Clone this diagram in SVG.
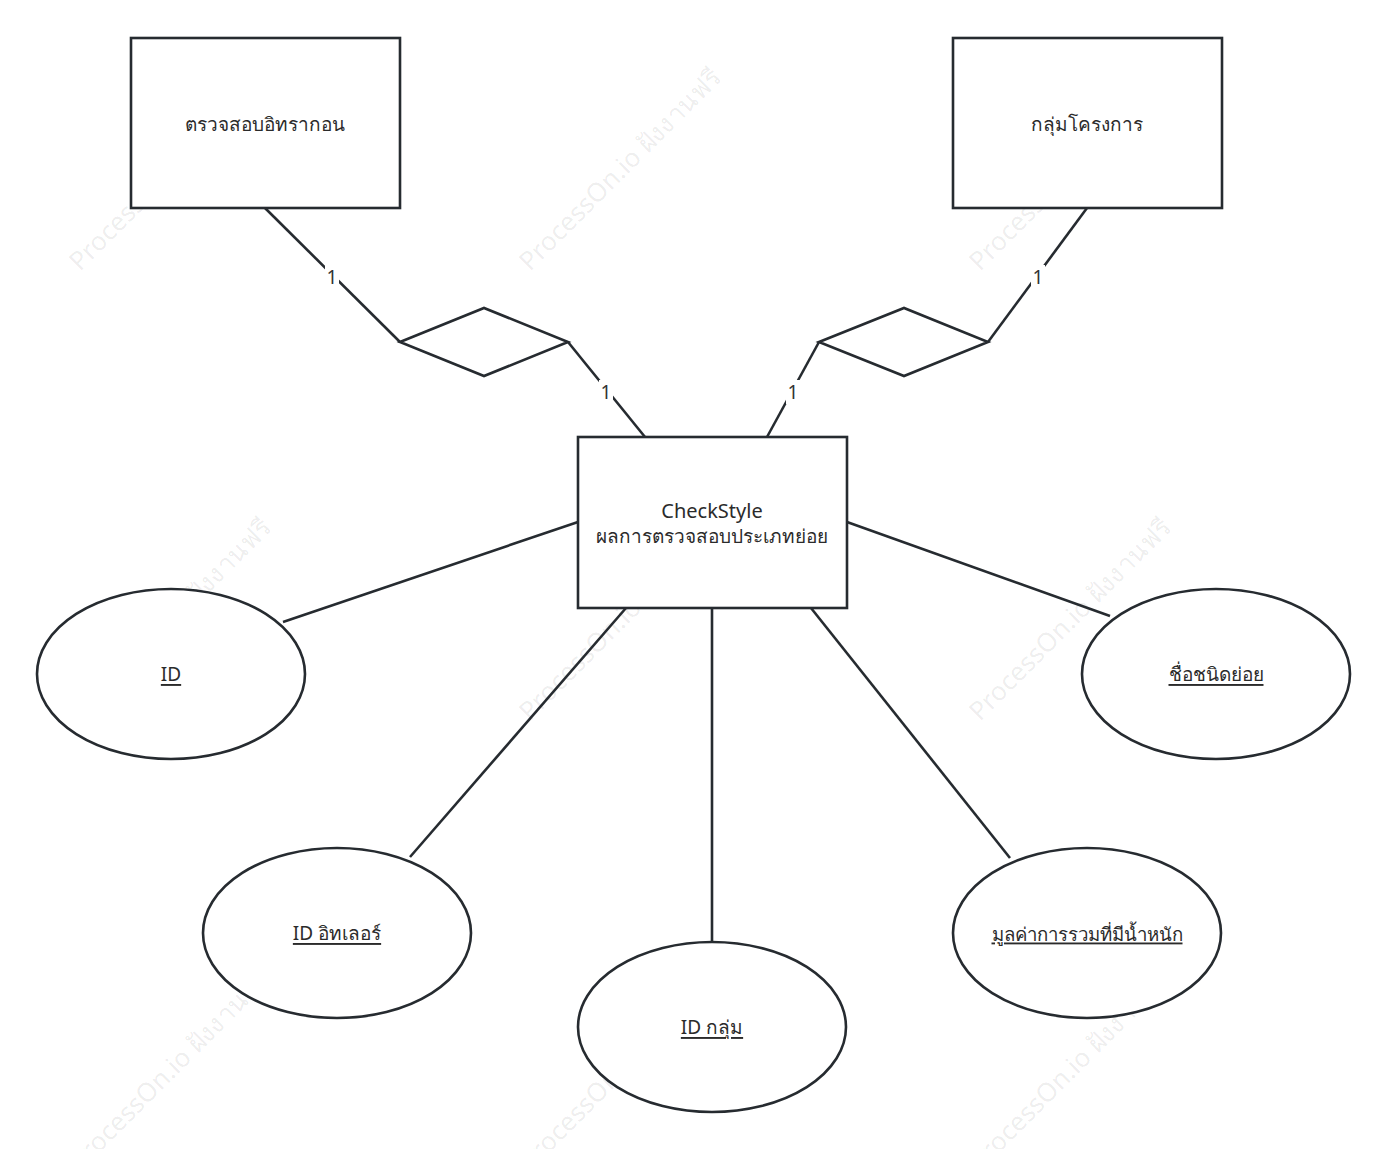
<svg xmlns="http://www.w3.org/2000/svg" width="1386" height="1149" viewBox="0 0 1386 1149">
<style>
.shape{fill:#ffffff;stroke:#262b30;stroke-width:2.6}
.conn{fill:none;stroke:#262b30;stroke-width:2.6}
.t{font-family:"Noto Sans","Open Sans",sans-serif;font-size:19px;fill:#2b2b2b;text-anchor:middle;dominant-baseline:central}
.big{font-size:20px}
.sm{font-size:18.6px}
.u{text-decoration:underline}
.lbl{font-family:"Noto Sans","Open Sans",sans-serif;font-size:19px;fill:#333333;text-anchor:middle;dominant-baseline:central}
.wm{font-family:"Noto Sans","Open Sans",sans-serif;font-size:26px;fill:#000000;fill-opacity:0.08}
</style>
<rect width="1386" height="1149" fill="#ffffff"/>
<g id="watermarks">
<text class="wm" transform="translate(80,272) rotate(-45)">ProcessOn.io ฝังงานฟรี</text>
<text class="wm" transform="translate(530,272) rotate(-45)">ProcessOn.io ฝังงานฟรี</text>
<text class="wm" transform="translate(980,272) rotate(-45)">ProcessOn.io ฝังงานฟรี</text>
<text class="wm" transform="translate(80,722) rotate(-45)">ProcessOn.io ฝังงานฟรี</text>
<text class="wm" transform="translate(530,722) rotate(-45)">ProcessOn.io ฝังงานฟรี</text>
<text class="wm" transform="translate(980,722) rotate(-45)">ProcessOn.io ฝังงานฟรี</text>
<text class="wm" transform="translate(80,1172) rotate(-45)">ProcessOn.io ฝังงานฟรี</text>
<text class="wm" transform="translate(530,1172) rotate(-45)">ProcessOn.io ฝังงานฟรี</text>
<text class="wm" transform="translate(980,1172) rotate(-45)">ProcessOn.io ฝังงานฟรี</text>
</g>
<g id="connectors">
<polyline class="conn" points="265,208 400,342"/>
<polyline class="conn" points="568,342 645,437"/>
<polyline class="conn" points="1087,208 988,342"/>
<polyline class="conn" points="819,342 767,437"/>
<line class="conn" x1="578" y1="522" x2="283" y2="622"/>
<line class="conn" x1="847" y1="522" x2="1110" y2="616"/>
<line class="conn" x1="626" y1="608" x2="410" y2="857"/>
<line class="conn" x1="712" y1="608" x2="712" y2="941"/>
<line class="conn" x1="811" y1="608" x2="1010" y2="858"/>
<rect x="325" y="265" width="14" height="24" fill="#ffffff"/>
<text class="lbl" x="332" y="277">1</text>
<rect x="599" y="380" width="14" height="24" fill="#ffffff"/>
<text class="lbl" x="606" y="392">1</text>
<rect x="1031" y="265" width="14" height="24" fill="#ffffff"/>
<text class="lbl" x="1038" y="277">1</text>
<rect x="786" y="380" width="14" height="24" fill="#ffffff"/>
<text class="lbl" x="793" y="392">1</text>
</g>
<g id="node-inspect">
<rect class="shape" x="131" y="38" width="269" height="170"/>
<text class="t" x="265" y="124">ตรวจสอบอิทรากอน</text>
</g>
<g id="node-group">
<rect class="shape" x="953" y="38" width="269" height="170"/>
<text class="t" x="1087" y="124">กลุ่มโครงการ</text>
</g>
<g id="rel-left">
<polygon class="shape" points="400,342 484,308 568,342 484,376"/>
</g>
<g id="rel-right">
<polygon class="shape" points="819,342 904,308 988,342 904,376"/>
</g>
<g id="node-checkstyle">
<rect class="shape" x="578" y="437" width="269" height="171"/>
<text class="t big" x="712" y="510">CheckStyle</text>
<text class="t" x="712" y="536">ผลการตรวจสอบประเภทย่อย</text>
</g>
<g id="attr-id">
<ellipse class="shape" cx="171" cy="674" rx="134" ry="85"/>
<text class="t u" x="171" y="674">ID</text>
</g>
<g id="attr-subname">
<ellipse class="shape" cx="1216" cy="674" rx="134" ry="85"/>
<text class="t u" x="1216" y="674">ชื่อชนิดย่อย</text>
</g>
<g id="attr-iteration">
<ellipse class="shape" cx="337" cy="933" rx="134" ry="85"/>
<text class="t u" x="337" y="933">ID อิทเลอร์</text>
</g>
<g id="attr-groupid">
<ellipse class="shape" cx="712" cy="1027" rx="134" ry="85"/>
<text class="t u" x="712" y="1027">ID กลุ่ม</text>
</g>
<g id="attr-weighted">
<ellipse class="shape" cx="1087" cy="933" rx="134" ry="85"/>
<text class="t u sm" x="1087" y="933">มูลค่าการรวมที่มีน้ำหนัก</text>
</g>
</svg>
